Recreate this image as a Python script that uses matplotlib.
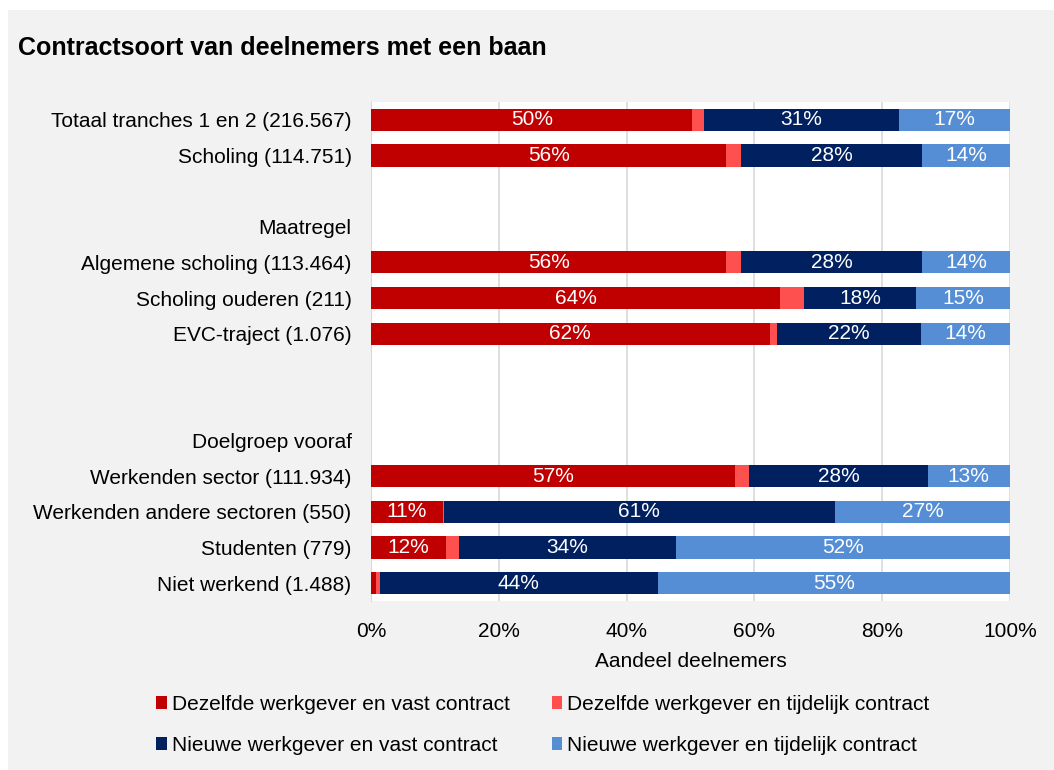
import numpy as np
import matplotlib.pyplot as plt
from matplotlib.patches import Rectangle

plt.rcParams['font.family'] = ['Liberation Sans', 'DejaVu Sans']

# rows from top to bottom; header / blank rows carry zeros
categories = ['Totaal tranches 1 en 2 (216.567)', 'Scholing (114.751)', '',
              'Maatregel', 'Algemene scholing (113.464)', 'Scholing ouderen (211)',
              'EVC-traject (1.076)', '', '', 'Doelgroep vooraf',
              'Werkenden sector (111.934)', 'Werkenden andere sectoren (550)',
              'Studenten (779)', 'Niet werkend (1.488)']

zelfde_vast = [50.3, 55.6, 0, 0, 55.6, 64.0, 62.4, 0, 0, 0, 56.9, 11.2, 11.8, 0.8]
zelfde_tijdelijk = [1.8, 2.3, 0, 0, 2.3, 3.8, 1.1, 0, 0, 0, 2.3, 0.2, 2.0, 0.6]
nieuw_vast = [30.6, 28.4, 0, 0, 28.4, 17.5, 22.5, 0, 0, 0, 27.9, 61.2, 33.9, 43.5]
nieuw_tijdelijk = [17.3, 13.7, 0, 0, 13.7, 14.8, 14.0, 0, 0, 0, 12.9, 27.4, 52.3, 55.1]

series_names = ['Dezelfde werkgever en vast contract',
                'Dezelfde werkgever en tijdelijk contract',
                'Nieuwe werkgever en vast contract',
                'Nieuwe werkgever en tijdelijk contract']
colors = ['#c00000', '#ff5050', '#002060', '#558ed5']

fs = 15
W, H = 1054, 770
fig = plt.figure(figsize=(W / 100, H / 100), dpi=100)
fig.patch.set_facecolor('white')
fig.patches.append(Rectangle((8 / W, 0), 1 - 8 / W, 1 - 10 / H, transform=fig.transFigure,
                             facecolor='#f2f2f2', edgecolor='none', zorder=-10))

ax = fig.add_axes([371 / W, (H - 601) / H, 639 / W, (601 - 102) / H])
ax.set_facecolor('white')

y = np.arange(len(categories))
left = np.zeros(len(categories))
handles = []
for vals, name, c in zip([zelfde_vast, zelfde_tijdelijk, nieuw_vast, nieuw_tijdelijk],
                         series_names, colors):
    vals = np.array(vals)
    bars = ax.barh(y, vals, left=left, height=0.62, color=c, label=name, zorder=3)
    labels = ['%d%%' % round(v) if v >= 10 else '' for v in vals]
    ax.bar_label(bars, labels=labels, label_type='center', color='white', fontsize=fs)
    handles.append(bars)
    left += vals

ax.set_xlim(0, 100)
ax.set_ylim(len(categories) - 0.5, -0.5)
ax.set_yticks(y)
ax.set_yticklabels(categories, fontsize=fs)
ax.set_xticks([0, 20, 40, 60, 80, 100])
ax.set_xticklabels(['0%', '20%', '40%', '60%', '80%', '100%'], fontsize=fs)
ax.tick_params(length=0)
ax.tick_params(axis='y', pad=14)
ax.tick_params(axis='x', pad=15)
ax.grid(axis='x', color='#d9d9d9', linewidth=1.2, zorder=0)
for s in ['top', 'right', 'bottom']:
    ax.spines[s].set_visible(False)
ax.spines['left'].set_color('#d9d9d9')
ax.set_xlabel('Aandeel deelnemers', fontsize=fs, labelpad=8)

fig.text(18 / W, 1 - 48 / H, 'Contractsoort van deelnemers met een baan',
         fontsize=18, fontweight='bold', va='center', ha='left')

# legend fills row by row in the reference
order = [0, 2, 1, 3]
fig.legend(handles=[handles[i] for i in order], labels=[series_names[i] for i in order],
           ncol=2, frameon=False, loc='center', bbox_to_anchor=(543 / W, 1 - 725 / H),
           fontsize=fs, handlelength=0.5, handleheight=0.6, handletextpad=0.25,
           columnspacing=2.0, labelspacing=1.05)

fig.savefig('out.png', dpi=100)
